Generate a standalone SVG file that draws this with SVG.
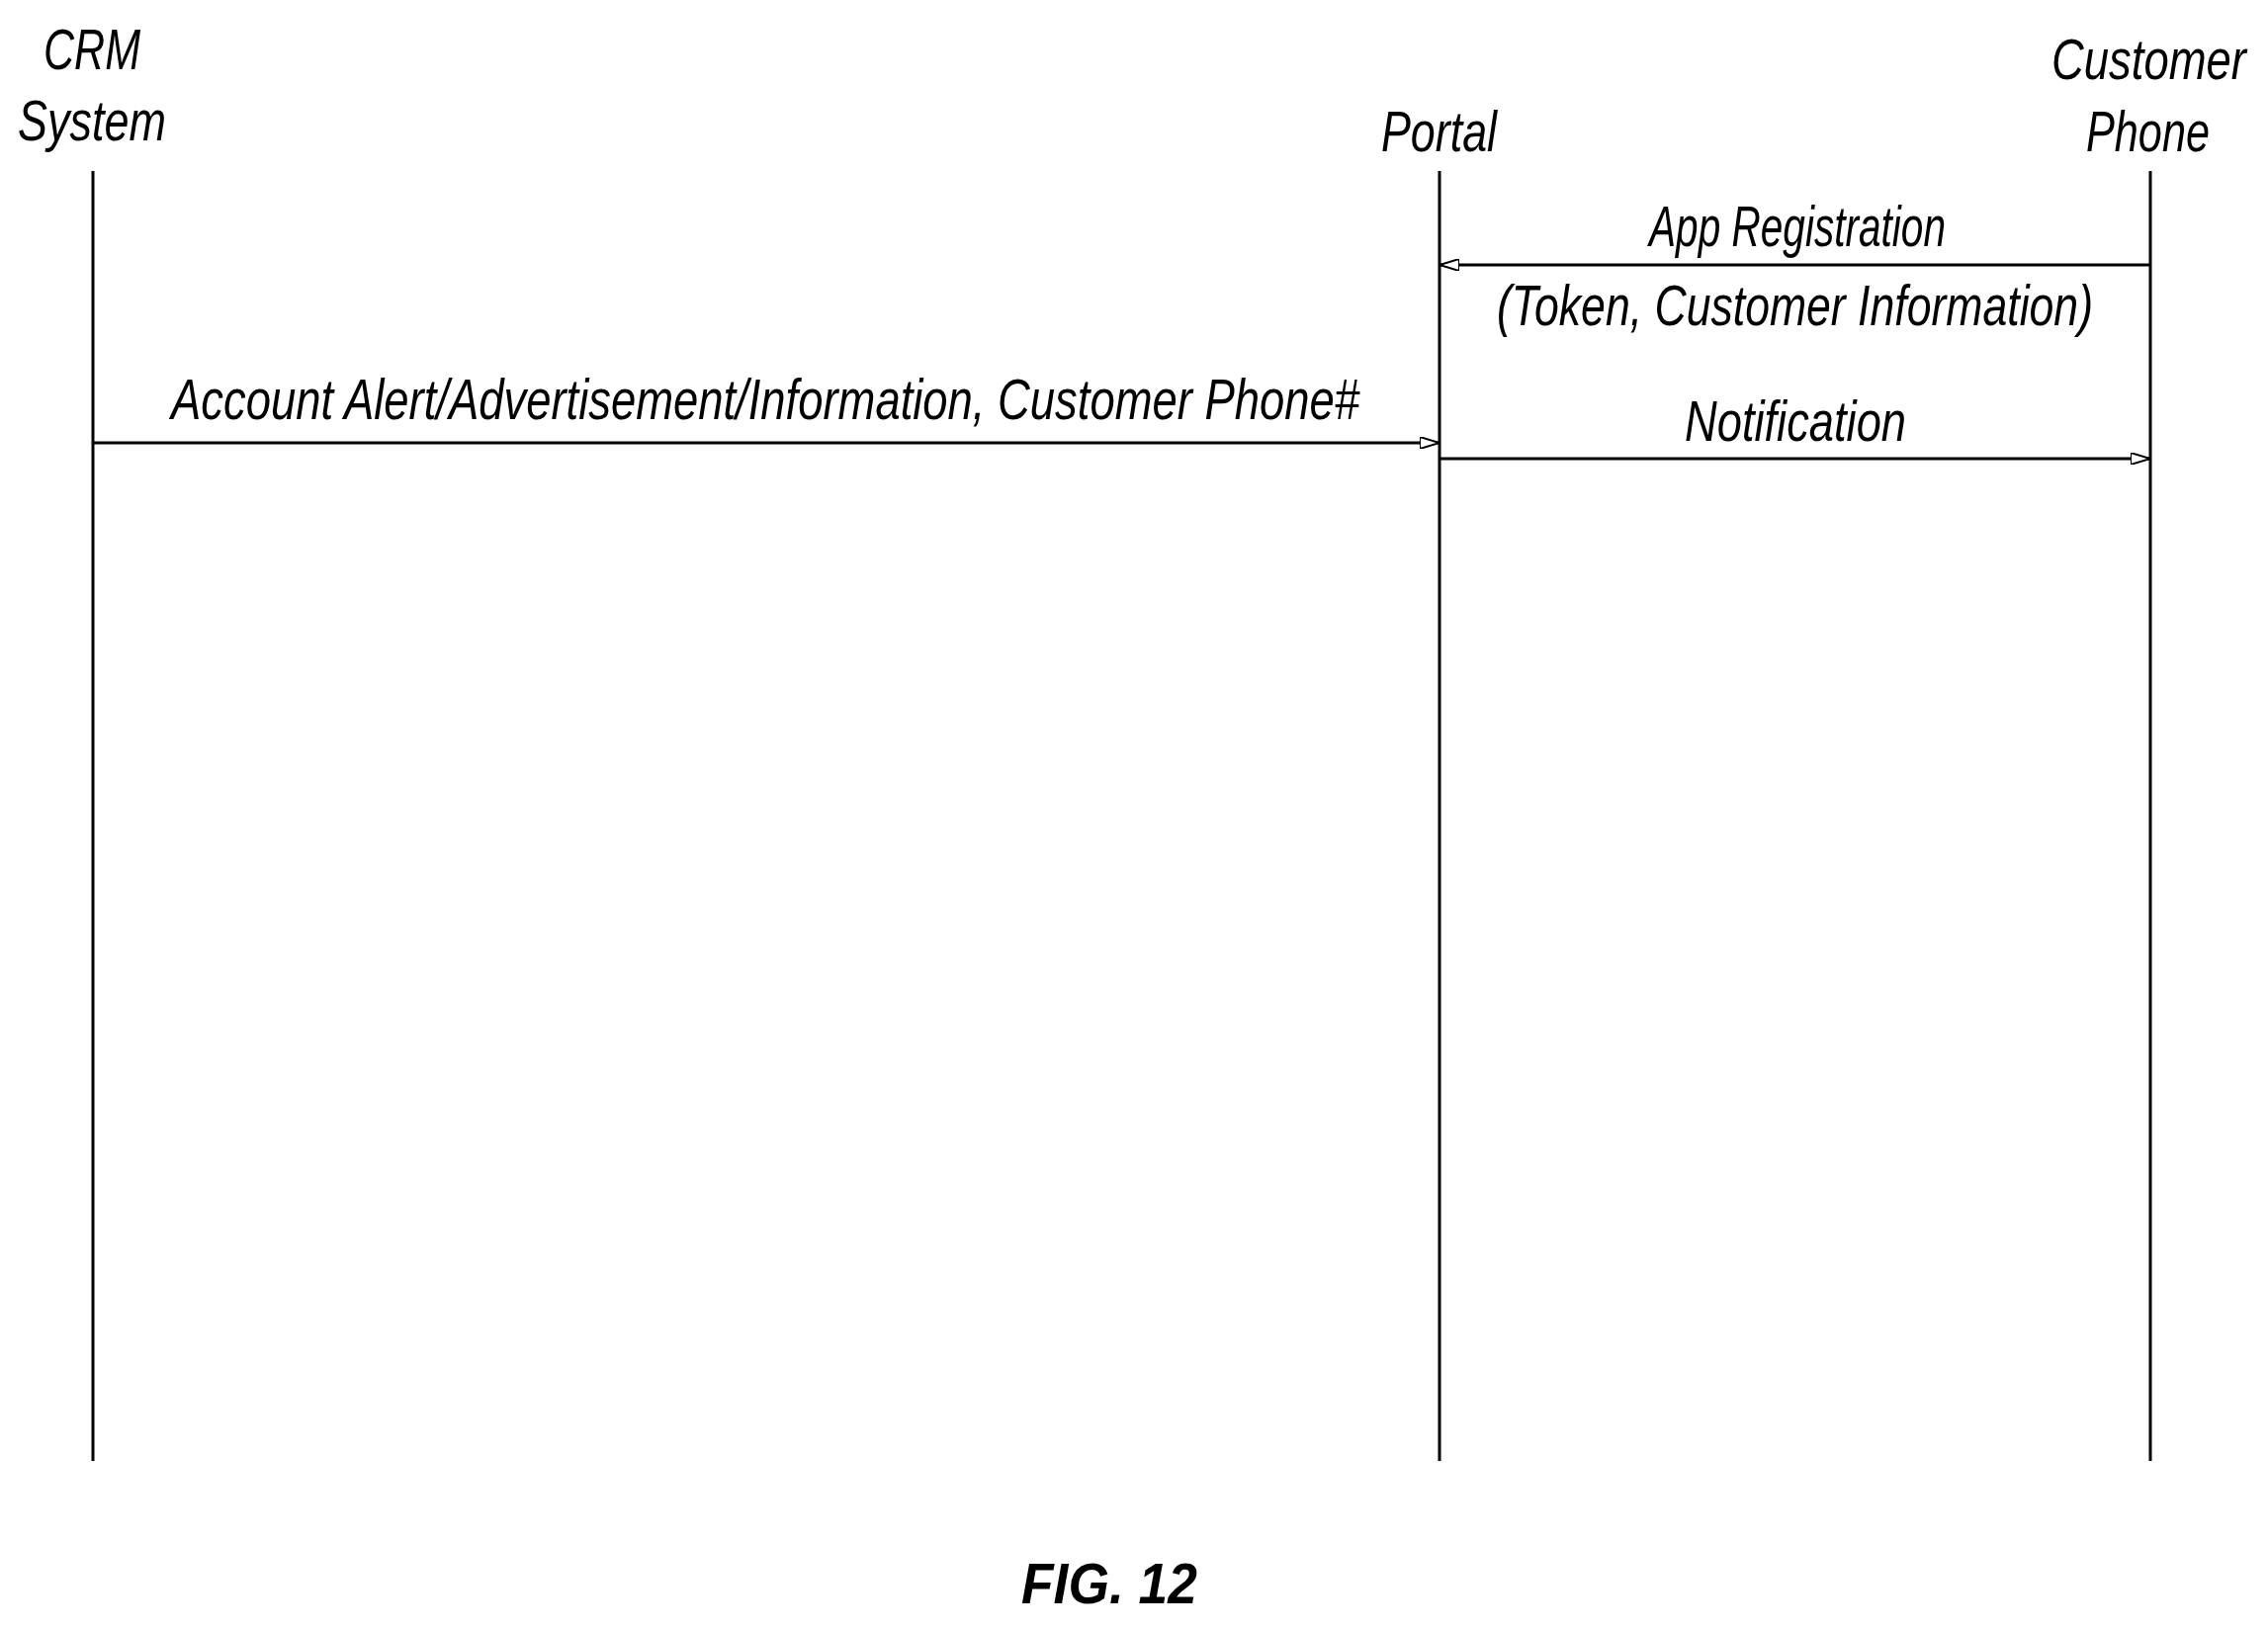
<svg xmlns="http://www.w3.org/2000/svg" width="2294" height="1649" viewBox="0 0 2294 1649">
<style>
text{font-family:"Liberation Sans",Arial,sans-serif;font-style:italic;font-size:58px;fill:#000}
.life{stroke:#000;stroke-width:3;fill:none}
.msg{stroke:#000;stroke-width:3;fill:none;marker-end:url(#ah)}
</style>
<defs>
<marker id="ah" viewBox="0 0 20 12" refX="20" refY="6" markerWidth="20" markerHeight="12" orient="auto" markerUnits="userSpaceOnUse">
<path d="M0,0 L20,6 L0,12 Z" fill="#fff" stroke="#000" stroke-width="2"/>
</marker>
</defs>
<rect width="2294" height="1649" fill="#fff"/>
<g id="crm">
<text x="44" y="70" textLength="98" lengthAdjust="spacingAndGlyphs">CRM</text>
<text x="18" y="142" textLength="150" lengthAdjust="spacingAndGlyphs">System</text>
<line class="life" x1="94" y1="173" x2="94" y2="1478"/>
</g>
<g id="portal">
<text x="1397" y="153" textLength="117" lengthAdjust="spacingAndGlyphs">Portal</text>
<line class="life" x1="1456" y1="173" x2="1456" y2="1478"/>
</g>
<g id="phone">
<text x="2075" y="80" textLength="197" lengthAdjust="spacingAndGlyphs">Customer</text>
<text x="2110" y="153" textLength="125" lengthAdjust="spacingAndGlyphs">Phone</text>
<line class="life" x1="2175" y1="173" x2="2175" y2="1478"/>
</g>
<g id="connectors">
<line class="msg" x1="2175" y1="268" x2="1456" y2="268"/>
<text x="1668" y="249" textLength="300" lengthAdjust="spacingAndGlyphs">App Registration</text>
<text x="1514" y="329" textLength="603" lengthAdjust="spacingAndGlyphs">(Token, Customer Information)</text>
<line class="msg" x1="94" y1="448" x2="1456" y2="448"/>
<text x="173" y="424" textLength="1202" lengthAdjust="spacingAndGlyphs">Account Alert/Advertisement/Information, Customer Phone#</text>
<line class="msg" x1="1456" y1="464" x2="2175" y2="464"/>
<text x="1704" y="446" textLength="224" lengthAdjust="spacingAndGlyphs">Notification</text>
</g>
<text x="1033" y="1622" textLength="178" lengthAdjust="spacingAndGlyphs" font-weight="bold">FIG. 12</text>
</svg>
